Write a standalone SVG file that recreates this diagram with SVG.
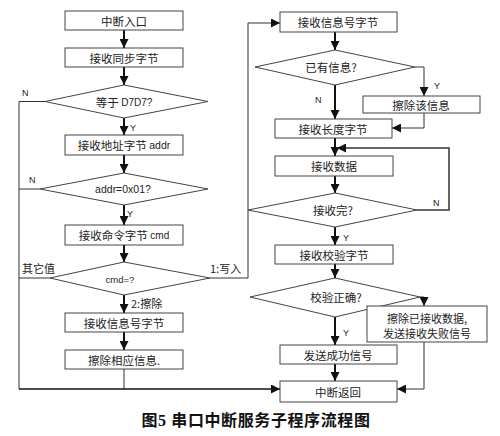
<svg xmlns="http://www.w3.org/2000/svg" width="500" height="436" viewBox="0 0 500 436">
<defs>
<marker id="ah" viewBox="0 0 10 10" refX="10" refY="5" markerWidth="9" markerHeight="9" markerUnits="userSpaceOnUse" orient="auto">
<path d="M0,0 L10,5 L0,10 z" fill="#111"/>
</marker>
<style>
.box{fill:#fff;stroke:#444;stroke-width:1}
.dia{fill:#fff;stroke:#444;stroke-width:1}
.t{font-family:"Noto Sans CJK SC","Liberation Sans",sans-serif;font-size:11.5px;fill:#222;text-anchor:middle;dominant-baseline:central}
.l{font-family:"Liberation Sans","Noto Sans CJK SC",sans-serif;font-size:10px;fill:#222;text-anchor:middle;dominant-baseline:central}
.lab{font-family:"Noto Sans CJK SC","Liberation Sans",sans-serif;font-size:11px;fill:#222;dominant-baseline:central}
.yn{font-family:"Liberation Sans",sans-serif;font-size:9px;fill:#222;dominant-baseline:central}
.thick{stroke:#111;stroke-width:2;fill:none}
.thin{stroke:#333;stroke-width:1;fill:none}
.cap{font-family:"Liberation Serif","Noto Sans CJK SC",serif;font-size:16px;font-weight:bold;fill:#111;text-anchor:middle;letter-spacing:0.6px}
</style>
</defs>
<rect width="500" height="436" fill="#fff"/>

<g id="connectors">
<line class="thick" x1="124" y1="30" x2="124" y2="48" marker-end="url(#ah)"/>
<line class="thick" x1="124" y1="67" x2="124" y2="85" marker-end="url(#ah)"/>
<line class="thick" x1="124" y1="118" x2="124" y2="135" marker-end="url(#ah)"/>
<line class="thick" x1="124" y1="155" x2="124" y2="173" marker-end="url(#ah)"/>
<line class="thick" x1="124" y1="205" x2="124" y2="225" marker-end="url(#ah)"/>
<line class="thick" x1="124" y1="245" x2="124" y2="262" marker-end="url(#ah)"/>
<line class="thick" x1="124" y1="295" x2="124" y2="313" marker-end="url(#ah)"/>
<line class="thick" x1="124" y1="332" x2="124" y2="350" marker-end="url(#ah)"/>
<line class="thin" x1="124" y1="369" x2="124" y2="389"/>
<polyline class="thin" points="45,101.5 19,101.5 19,389"/>
<line class="thin" x1="40" y1="189" x2="19" y2="189"/>
<line class="thin" x1="50" y1="278" x2="19" y2="278"/>
<line class="thick" x1="19" y1="389" x2="280" y2="389" marker-end="url(#ah)" style="stroke-width:1.5"/>
<polyline class="thin" points="210,278 248,278 248,23"/>
<line class="thin" x1="248" y1="23" x2="280" y2="23" marker-end="url(#ah)"/>
<line class="thick" x1="335" y1="32" x2="335" y2="50" marker-end="url(#ah)"/>
<polyline class="thin" points="415,67 424,67 424,96" marker-end="url(#ah)"/>
<polyline class="thin" points="424,113 424,128 392,128" marker-end="url(#ah)"/>
<line class="thick" x1="335" y1="85" x2="335" y2="119" marker-end="url(#ah)"/>
<line class="thick" x1="335" y1="138" x2="335" y2="156" marker-end="url(#ah)"/>
<polyline class="thin" points="417,210 449,210 449,148 337,148" style="stroke-width:1.5" marker-end="url(#ah)"/>
<line class="thick" x1="335" y1="176" x2="335" y2="193" marker-end="url(#ah)"/>
<line class="thick" x1="335" y1="227" x2="335" y2="245" marker-end="url(#ah)"/>
<line class="thick" x1="335" y1="264" x2="335" y2="278" marker-end="url(#ah)"/>
<polyline class="thin" points="420,297 424,297 424,306" marker-end="url(#ah)"/>
<line class="thick" x1="335" y1="317" x2="335" y2="345" marker-end="url(#ah)"/>
<line class="thick" x1="335" y1="364" x2="335" y2="381" marker-end="url(#ah)"/>
<polyline class="thin" points="424,342 424,389 397,389" marker-end="url(#ah)"/>
</g>

<g id="n_entry"><rect class="box" x="65" y="11" width="118" height="19"/><text class="t" x="124" y="20.5">中断入口</text></g>
<g id="n_sync"><rect class="box" x="65" y="48" width="118" height="19"/><text class="t" x="124" y="57.5">接收同步字节</text></g>
<g id="d_d7d7"><polygon class="dia" points="124,85 208,101.5 124,118 45,101.5"/><text class="t" x="124" y="101.5">等于 <tspan style="font-family:'Liberation Sans',sans-serif;font-size:10px">D7D7?</tspan></text></g>
<g id="n_addr"><rect class="box" x="65" y="135" width="118" height="20"/><text class="t" x="124" y="145">接收地址字节 <tspan style="font-family:'Liberation Sans',sans-serif;font-size:10.5px">addr</tspan></text></g>
<g id="d_addr"><polygon class="dia" points="124,173 208,189 124,205 40,189"/><text class="l" x="123" y="189" style="font-size:10.5px">addr=0x01?</text></g>
<g id="n_cmd"><rect class="box" x="65" y="225" width="118" height="20"/><text class="t" x="124" y="235">接收命令字节 <tspan style="font-family:'Liberation Sans',sans-serif;font-size:10px">cmd</tspan></text></g>
<g id="d_cmd"><polygon class="dia" points="124,262 210,278 124,295 50,278"/><text class="l" x="120" y="279" style="font-size:9.5px">cmd=?</text></g>
<g id="n_msgno_l"><rect class="box" x="65" y="313" width="118" height="19"/><text class="t" x="124" y="322.5">接收信息号字节</text></g>
<g id="n_del"><rect class="box" x="65" y="350" width="118" height="19"/><text class="t" x="124" y="359.5">擦除相应信息.</text></g>

<g id="n_msgno_r"><rect class="box" x="280" y="12" width="117" height="20"/><text class="t" x="338" y="22">接收信息号字节</text></g>
<g id="d_exist"><polygon class="dia" points="335,50 415,67 335,85 255,67"/><text class="t" x="331" y="67">已有信息?</text></g>
<g id="n_delmsg"><rect class="box" x="363" y="96" width="117" height="17"/><text class="t" x="421" y="104.5">擦除该信息</text></g>
<g id="n_len"><rect class="box" x="275" y="119" width="117" height="19"/><text class="t" x="333" y="128.5">接收长度字节</text></g>
<g id="n_data"><rect class="box" x="275" y="156" width="118" height="20"/><text class="t" x="334" y="166">接收数据</text></g>
<g id="d_done"><polygon class="dia" points="335,193 417,210 335,227 248,210"/><text class="t" x="333" y="210">接收完?</text></g>
<g id="n_chk"><rect class="box" x="275" y="245" width="118" height="19"/><text class="t" x="334" y="254.5">接收校验字节</text></g>
<g id="d_ok"><polygon class="dia" points="335,278 420,297 335,317 250,297"/><text class="t" x="336" y="297">校验正确?</text></g>
<g id="n_fail"><rect class="box" x="367" y="306" width="120" height="36"/><text class="t" x="427" y="318" style="font-size:11px">擦除已接收数据,</text><text class="t" x="427" y="333" style="font-size:11px">发送接收失败信号</text></g>
<g id="n_succ"><rect class="box" x="280" y="345" width="117" height="19"/><text class="t" x="338" y="354.5">发送成功信号</text></g>
<g id="n_ret"><rect class="box" x="280" y="381" width="117" height="21"/><text class="t" x="338" y="391.5">中断返回</text></g>

<g id="labels">
<text class="yn" x="22" y="93">N</text>
<text class="yn" x="130" y="128">Y</text>
<text class="yn" x="29" y="180">N</text>
<text class="yn" x="127" y="214">Y</text>
<text class="lab" x="22" y="268">其它值</text>
<text class="lab" x="210" y="268">1:写入</text>
<text class="lab" x="131" y="303">2:擦除</text>
<text class="yn" x="434" y="86">Y</text>
<text class="yn" x="315" y="100">N</text>
<text class="yn" x="433" y="203">N</text>
<text class="yn" x="343" y="238">Y</text>
<text class="yn" x="343" y="333">Y</text>
</g>

<text class="cap" x="256" y="426">图5  串口中断服务子程序流程图</text>
</svg>
